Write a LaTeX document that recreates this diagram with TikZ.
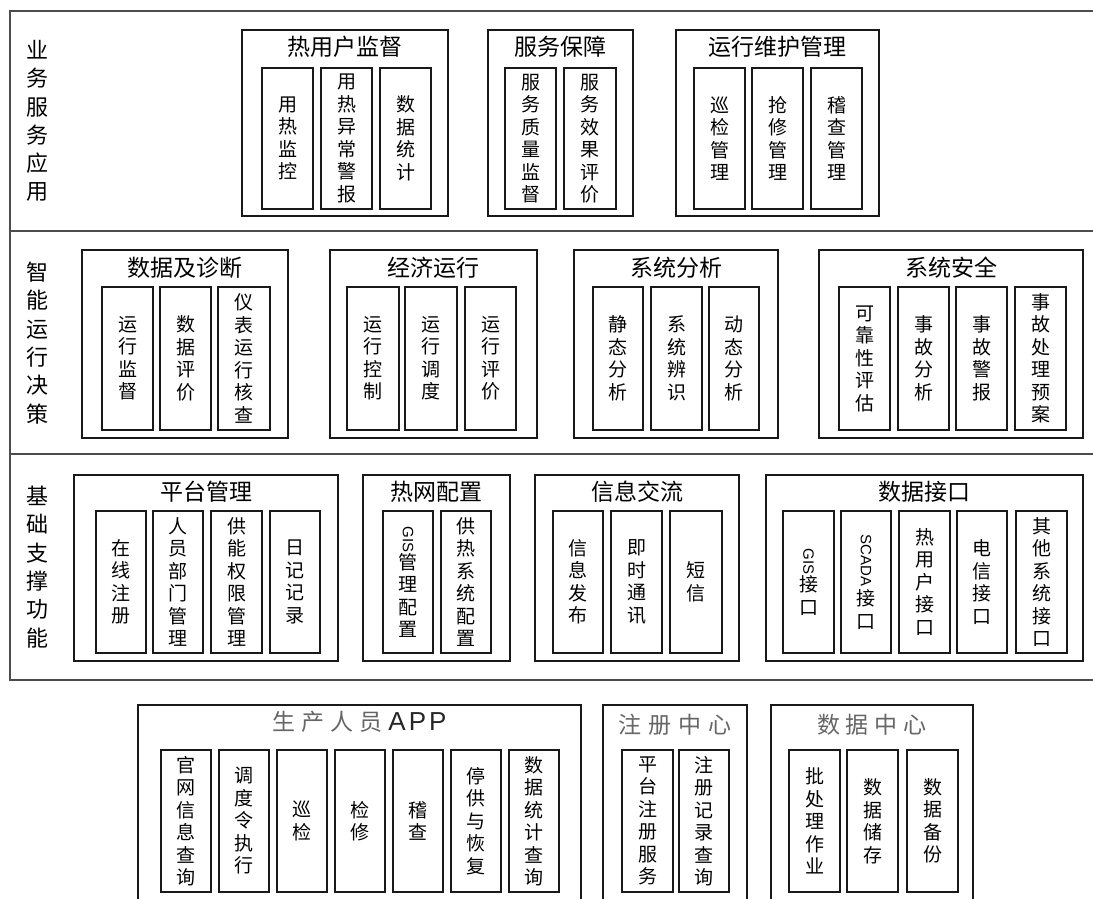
\documentclass[tikz,border=0pt]{standalone}
\usepackage{fontspec}
\usepackage{graphicx}
\setmainfont{Liberation Sans}
\newfontfamily\cjk{Noto Sans CJK SC}
\newfontfamily\lat{Liberation Sans}
\newcommand\rotlat[1]{\rotatebox{-90}{\lat\fontsize{15}{15}\selectfont #1}}
\newcommand\tsp{\hspace{6pt}}
\tikzset{
  frameline/.style={line width=2.6pt, draw=black!70},
  grp/.style={draw=black!90, line width=2pt, inner sep=0pt, outer sep=0pt},
  cb/.style={draw=black!90, line width=2pt, inner sep=0pt, outer sep=0pt, align=center,
    font=\cjk\fontsize{19}{22.5}\selectfont},
  gtitle/.style={font=\cjk\fontsize{23}{26}\selectfont, inner sep=0pt},
  btitle/.style={font=\cjk\fontsize{23}{26}\selectfont, inner sep=0pt, text=black!60},
  blabel/.style={font=\cjk\fontsize{22}{28.3}\selectfont, align=center, inner sep=0pt},
}
\newcommand\colb[6]{\node[cb, minimum width={#3-#2}, minimum height={#5-#4}] (#1) at ({(#2+#3)/2},{(#4+#5)/2}) {#6};}
\newcommand\grpb[7]{\node[grp, minimum width={#3-#2}, minimum height={#5-#4}] (#1) at ({(#2+#3)/2},{(#4+#5)/2}) {};
  \node[gtitle] (#1t) at ({(#2+#3)/2},#6) {#7};}
\begin{document}
\begin{tikzpicture}[x=1pt,y=-1pt]
\clip (0,0) rectangle (1093,898);
\fill[white] (0,0) rectangle (1093,898);
% frame
\draw[frameline] (1100,11) -- (10,11) -- (10,680) -- (1100,680);
\draw[frameline] (10,231) -- (1100,231);
\draw[frameline] (10,454) -- (1100,454);
% band labels
\node[blabel] (L1) at (37,121) {业\\务\\服\\务\\应\\用};
\node[blabel] (L2) at (37,343) {智\\能\\运\\行\\决\\策};
\node[blabel] (L3) at (37,567) {基\\础\\支\\撑\\功\\能};
% band 1
\grpb{g11}{242}{448}{30}{216}{47}{热用户监督}
\colb{c111}{262}{313}{68}{209}{用\\热\\监\\控}
\colb{c112}{321}{372}{68}{209}{用\\热\\异\\常\\警\\报}
\colb{c113}{380}{431}{68}{209}{数\\据\\统\\计}
\grpb{g12}{488}{633}{30}{216}{47}{服务保障}
\colb{c121}{505}{556}{68}{209}{服\\务\\质\\量\\监\\督}
\colb{c122}{564}{616}{68}{209}{服\\务\\效\\果\\评\\价}
\grpb{g13}{676}{879}{30}{216}{47}{运行维护管理}
\colb{c131}{694}{745}{68}{209}{巡\\检\\管\\理}
\colb{c132}{752}{803}{68}{209}{抢\\修\\管\\理}
\colb{c133}{811}{862}{68}{209}{稽\\查\\管\\理}
% band 2
\grpb{g21}{82}{288}{250}{438}{268}{数据及诊断}
\colb{c211}{102}{153}{287}{430}{运\\行\\监\\督}
\colb{c212}{160}{211}{287}{430}{数\\据\\评\\价}
\colb{c213}{218}{270}{287}{430}{仪\\表\\运\\行\\核\\查}
\grpb{g22}{330}{537}{250}{438}{268}{经济运行}
\colb{c221}{347}{399}{287}{430}{运\\行\\控\\制}
\colb{c222}{405}{457}{287}{430}{运\\行\\调\\度}
\colb{c223}{465}{516}{287}{430}{运\\行\\评\\价}
\grpb{g23}{574}{778}{250}{438}{268}{系统分析}
\colb{c231}{593}{643}{287}{430}{静\\态\\分\\析}
\colb{c232}{651}{702}{287}{430}{系\\统\\辨\\识}
\colb{c233}{709}{759}{287}{430}{动\\态\\分\\析}
\grpb{g24}{819}{1083}{250}{438}{268}{系统安全}
\colb{c241}{839}{890}{287}{430}{可\\靠\\性\\评\\估}
\colb{c242}{898}{949}{287}{430}{事\\故\\分\\析}
\colb{c243}{956}{1007}{287}{430}{事\\故\\警\\报}
\colb{c244}{1015}{1066}{287}{430}{事\\故\\处\\理\\预\\案}
% band 3
\grpb{g31}{74}{338}{475}{661}{492}{平台管理}
\colb{c311}{96}{146}{511}{653}{在\\线\\注\\册}
\colb{c312}{153}{203}{511}{653}{人\\员\\部\\门\\管\\理}
\colb{c313}{211}{262}{511}{653}{供\\能\\权\\限\\管\\理}
\colb{c314}{270}{320}{511}{653}{日\\记\\记\\录}
\grpb{g32}{363}{510}{475}{661}{492}{热网配置}
\colb{c321}{383}{433}{511}{653}{\rotlat{GIS}\\管\\理\\配\\置}
\colb{c322}{441}{491}{511}{653}{供\\热\\系\\统\\配\\置}
\grpb{g33}{535}{739}{475}{661}{492}{信息交流}
\colb{c331}{553}{603}{511}{653}{信\\息\\发\\布}
\colb{c332}{611}{662}{511}{653}{即\\时\\通\\讯}
\colb{c333}{670}{722}{511}{653}{短\\信}
\grpb{g34}{766}{1083}{475}{661}{492}{数据接口}
\colb{c341}{783}{834}{511}{653}{\rotlat{GIS}\\接\\口}
\colb{c342}{841}{891}{511}{653}{\rotlat{SCADA\,}\\接\\口}
\colb{c343}{899}{950}{511}{653}{热\\用\\户\\接\\口}
\colb{c344}{957}{1007}{511}{653}{电\\信\\接\\口}
\colb{c345}{1016}{1067}{511}{653}{其\\他\\系\\统\\接\\口}
% band 4
\grpb{g41}{138}{581}{705}{910}{722}{{\color{black!60}生\tsp 产\tsp 人\tsp 员\tsp}{\lat\fontsize{26}{28}\selectfont\color{black!85}A\hspace{3pt}P\hspace{3pt}P}}
\colb{c411}{161}{211}{750}{892}{官\\网\\信\\息\\查\\询}
\colb{c412}{219}{269}{750}{892}{调\\度\\令\\执\\行}
\colb{c413}{277}{327}{750}{892}{巡\\检}
\colb{c414}{335}{385}{750}{892}{检\\修}
\colb{c415}{393}{443}{750}{892}{稽\\查}
\colb{c416}{451}{501}{750}{892}{停\\供\\与\\恢\\复}
\colb{c417}{509}{559}{750}{892}{数\\据\\统\\计\\查\\询}
\grpb{g42}{603}{747}{705}{910}{725}{{\color{black!60}注\hspace{7pt}册\hspace{7pt}中\hspace{7pt}心}}
\colb{c421}{622}{673}{750}{892}{平\\台\\注\\册\\服\\务}
\colb{c422}{679}{729}{750}{892}{注\\册\\记\\录\\查\\询}
\grpb{g43}{771}{973}{705}{910}{725}{{\color{black!60}数\tsp 据\tsp 中\tsp 心}}
\colb{c431}{789}{840}{750}{892}{批\\处\\理\\作\\业}
\colb{c432}{847}{898}{750}{892}{数\\据\\储\\存}
\colb{c433}{907}{958}{750}{892}{数\\据\\备\\份}
\end{tikzpicture}
\end{document}
